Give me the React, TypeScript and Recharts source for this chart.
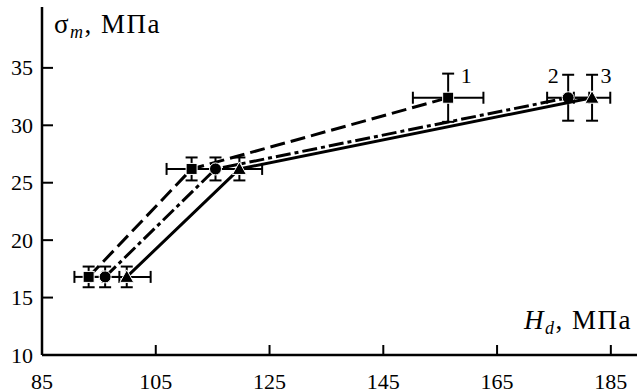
import React from "react";
import {
  ComposedChart,
  Scatter,
  ErrorBar,
  XAxis,
  YAxis,
  ReferenceDot,
} from "recharts";

// Hd, MPa on x; sigma_m, MPa on y
const xTicks = [85, 105, 125, 145, 165, 185];
const yTicks = [10, 15, 20, 25, 30, 35];

const hd1 = [93.2, 111.3, 156.4];
const sig1 = [16.8, 26.2, 32.4];
const hdErr1 = [2.5, 4.4, 6.2];
const sigErr1 = [0.9, 1.0, 2.1];

const hd2 = [96.1, 115.5, 177.5];
const sig2 = [16.8, 26.2, 32.4];
const hdErr2 = [2.5, 4.0, 3.7];
const sigErr2 = [0.9, 1.0, 2.0];

const hd3 = [99.9, 119.7, 181.7];
const sig3 = [16.8, 26.2, 32.4];
const hdErr3 = [4.2, 4.0, 3.2];
const sigErr3 = [0.9, 1.0, 2.0];

const curveNames = ["1", "2", "3"];

const W = 637;
const H = 392;
const AXIS_X = 42; // y axis line position
const AXIS_Y = 355; // x axis line position
const FONT = "'Liberation Serif', 'Times New Roman', serif";

function build(xs: number[], ys: number[], ex: number[], ey: number[]) {
  return xs.map((x, i) => ({ x, y: ys[i], ex: ex[i], ey: ey[i] }));
}

const data1 = build(hd1, sig1, hdErr1, sigErr1);
const data2 = build(hd2, sig2, hdErr2, sigErr2);
const data3 = build(hd3, sig3, hdErr3, sigErr3);

const SquareMark = (p: any) => (
  <rect x={p.cx - 5.5} y={p.cy - 5.5} width={11} height={11} fill="#000" stroke="#fff" strokeWidth={1} />
);
const CircleMark = (p: any) => (
  <circle cx={p.cx} cy={p.cy} r={6} fill="#000" stroke="#fff" strokeWidth={1} />
);
const TriangleMark = (p: any) => (
  <polygon
    points={`${p.cx},${p.cy - 7} ${p.cx + 7},${p.cy + 5.5} ${p.cx - 7},${p.cy + 5.5}`}
    fill="#000"
    stroke="#fff"
    strokeWidth={1}
  />
);

const YTick = (p: any) => (
  <g>
    <line x1={AXIS_X} x2={AXIS_X + 11} y1={p.y} y2={p.y} stroke="#000" strokeWidth={2} />
    <text x={AXIS_X - 9} y={p.y} textAnchor="end" dominantBaseline="central" fontFamily={FONT} fontSize={22} fill="#000">
      {p.payload.value}
    </text>
  </g>
);

const XTick = (p: any) => (
  <g>
    <line x1={p.x} x2={p.x} y1={AXIS_Y} y2={AXIS_Y - 10} stroke="#000" strokeWidth={2} />
    <text x={p.x} y={AXIS_Y + 26} textAnchor="middle" dominantBaseline="central" fontFamily={FONT} fontSize={22} fill="#000">
      {p.payload.value}
    </text>
  </g>
);

const curveLabel = (dx: number, text: string) => (props: any) => {
  const vb = props.viewBox || {};
  const cx = vb.x + (vb.width || 0) / 2;
  const cy = vb.y + (vb.height || 0) / 2;
  return (
    <text x={cx + dx} y={cy - 22} textAnchor="middle" dominantBaseline="central" fontFamily={FONT} fontSize={22} fill="#000">
      {text}
    </text>
  );
};

const titleStyle: React.CSSProperties = {
  position: "absolute",
  fontFamily: FONT,
  fontSize: 27,
  lineHeight: "30px",
  letterSpacing: "1.5px",
  whiteSpace: "nowrap",
};

const subStyle: React.CSSProperties = { fontStyle: "italic", fontSize: 18, verticalAlign: "-5px" };

export default function App() {
  return (
    <div style={{ position: "absolute", left: 0, top: 0, width: W, height: H, background: "#fff" }}>
      <ComposedChart width={W} height={H} margin={{ top: 7, right: 0, bottom: 0, left: 0 }}>
        <XAxis
          type="number"
          dataKey="x"
          domain={[85, 189.6]}
          ticks={xTicks}
          allowDataOverflow
          height={37}
          axisLine={{ stroke: "#000", strokeWidth: 2.5 }}
          tickLine={false}
          tick={<XTick />}
        />
        <YAxis
          type="number"
          dataKey="y"
          domain={[10, 40.3]}
          ticks={yTicks}
          allowDataOverflow
          width={42}
          axisLine={{ stroke: "#000", strokeWidth: 2.5 }}
          tickLine={false}
          tick={<YTick />}
        />
        <Scatter
          data={data1}
          isAnimationActive={false}
          line={{ stroke: "#000", strokeWidth: 3, strokeDasharray: "15 6" }}
          shape={SquareMark}
        >
          <ErrorBar dataKey="ex" direction="x" width={6} stroke="#000" strokeWidth={2} />
          <ErrorBar dataKey="ey" direction="y" width={6} stroke="#000" strokeWidth={2} />
        </Scatter>
        <Scatter
          data={data2}
          isAnimationActive={false}
          line={{ stroke: "#000", strokeWidth: 3, strokeDasharray: "15 4 4 4" }}
          shape={CircleMark}
        >
          <ErrorBar dataKey="ex" direction="x" width={6} stroke="#000" strokeWidth={2} />
          <ErrorBar dataKey="ey" direction="y" width={6} stroke="#000" strokeWidth={2} />
        </Scatter>
        <Scatter
          data={data3}
          isAnimationActive={false}
          line={{ stroke: "#000", strokeWidth: 3 }}
          shape={TriangleMark}
        >
          <ErrorBar dataKey="ex" direction="x" width={6} stroke="#000" strokeWidth={2} />
          <ErrorBar dataKey="ey" direction="y" width={6} stroke="#000" strokeWidth={2} />
        </Scatter>
        <ReferenceDot x={hd1[2]} y={sig1[2]} r={1} fill="none" stroke="none" label={{ content: curveLabel(18, curveNames[0]) }} />
        <ReferenceDot x={hd2[2]} y={sig2[2]} r={1} fill="none" stroke="none" label={{ content: curveLabel(-15, curveNames[1]) }} />
        <ReferenceDot x={hd3[2]} y={sig3[2]} r={1} fill="none" stroke="none" label={{ content: curveLabel(14, curveNames[2]) }} />
      </ComposedChart>
      <div style={{ ...titleStyle, left: 54, top: 9 }}>
        σ<sub style={subStyle}>m</sub>, МПа
      </div>
      <div style={{ ...titleStyle, left: 524, top: 305 }}>
        <i>H</i>
        <sub style={subStyle}>d</sub>, МПа
      </div>
    </div>
  );
}
